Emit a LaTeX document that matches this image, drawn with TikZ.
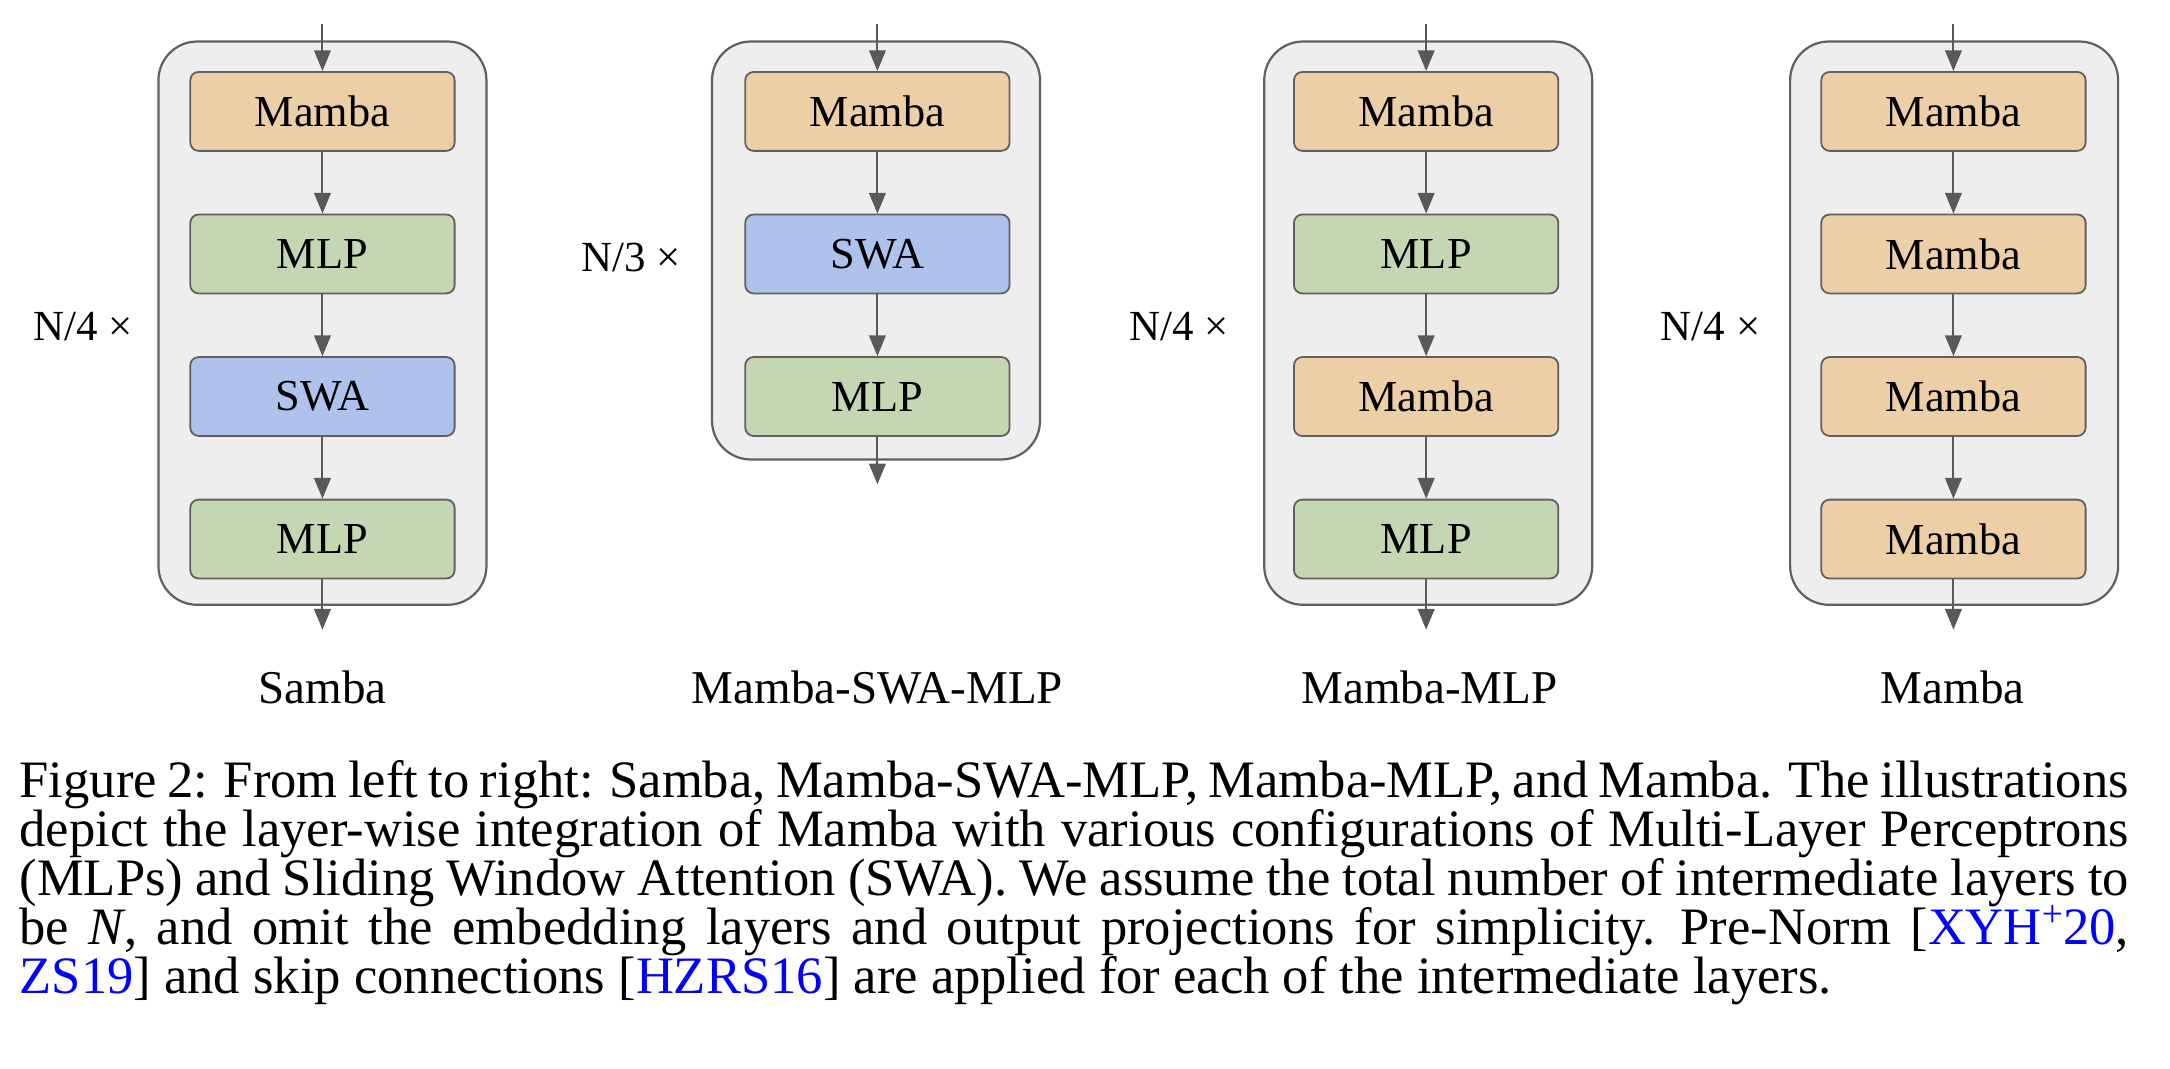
\documentclass[tikz,border=0pt]{standalone}
\usepackage{fontspec}
\setmainfont{Liberation Serif}
\usetikzlibrary{arrows.meta}
\definecolor{mambac}{HTML}{EDCFA7}
\definecolor{mlpc}{HTML}{C4D7B2}
\definecolor{swac}{HTML}{AEC2EB}
\definecolor{contc}{HTML}{EEEEEE}
\definecolor{edgec}{HTML}{606060}
\definecolor{arrc}{HTML}{595959}
\definecolor{linkc}{HTML}{0000FF}
\tikzset{
  container/.style={draw=edgec, line width=1.6pt, fill=contc, rounded corners=28pt, minimum width=237pt, inner sep=0pt},
  layer/.style={draw=edgec, line width=1.3pt, rounded corners=6pt, minimum width=191pt, minimum height=57pt, inner sep=0pt, font=\fontsize{32}{38}\selectfont},
  mambabox/.style={layer, fill=mambac},
  mlpbox/.style={layer, fill=mlpc},
  swabox/.style={layer, fill=swac},
  flow/.style={draw=arrc, line width=1.5pt, -{Triangle[width=12pt,length=15pt]}},
  reptext/.style={font=\fontsize{31}{37}\selectfont, inner sep=0pt, anchor=base},
  namelabel/.style={font=\fontsize{34}{40}\selectfont, inner sep=0pt},
  captext/.style={font=\fontsize{38}{35.5}\selectfont, inner sep=0pt, anchor=base west}
}
\newcommand{\lnk}[1]{\textcolor{linkc}{#1}}
\newcommand{\capline}[1]{\spaceskip=0.2em plus 1em minus 0.05em\xspaceskip=0.3em plus 1em minus 0.05em\makebox[1524pt][s]{#1}}
\begin{document}
\begin{tikzpicture}[x=1pt,y=-1pt]
\path[use as bounding box] (0,0) rectangle (1568,772);

% ---------- Samba ----------
\node[container, minimum height=407pt] (c1) at (233,233.5) {};
\node[mambabox] (a1) at (233,80.5) {Mamba};
\node[mlpbox]   (a2) at (233,183.5) {MLP};
\node[swabox]   (a3) at (233,286.5) {SWA};
\node[mlpbox]   (a4) at (233,389.5) {MLP};
\coordinate (ain) at (233,17);
\coordinate (aout) at (233,455);
\draw[flow] (ain) -- (a1.north);
\draw[flow] (a1.south) -- (a2.north);
\draw[flow] (a2.south) -- (a3.north);
\draw[flow] (a3.south) -- (a4.north);
\draw[flow] (a4.south) -- (aout);
\node[reptext] (ra) at (60,246) {N/4 ×};
\node[namelabel] (la) at (233,497) {Samba};

% ---------- Mamba-SWA-MLP ----------
\node[container, minimum height=302pt] (c2) at (633,181) {};
\node[mambabox] (b1) at (634,80.5) {Mamba};
\node[swabox]   (b2) at (634,183.5) {SWA};
\node[mlpbox]   (b3) at (634,286.5) {MLP};
\coordinate (bin) at (634,17);
\coordinate (bout) at (634,350);
\draw[flow] (bin) -- (b1.north);
\draw[flow] (b1.south) -- (b2.north);
\draw[flow] (b2.south) -- (b3.north);
\draw[flow] (b3.south) -- (bout);
\node[reptext] (rb) at (456,196) {N/3 ×};
\node[namelabel] (lb) at (634,497) {Mamba-SWA-MLP};

% ---------- Mamba-MLP ----------
\node[container, minimum height=407pt] (c3) at (1032,233.5) {};
\node[mambabox] (d1) at (1030.5,80.5) {Mamba};
\node[mlpbox]   (d2) at (1030.5,183.5) {MLP};
\node[mambabox] (d3) at (1030.5,286.5) {Mamba};
\node[mlpbox]   (d4) at (1030.5,389.5) {MLP};
\coordinate (din) at (1030.5,17);
\coordinate (dout) at (1030.5,455);
\draw[flow] (din) -- (d1.north);
\draw[flow] (d1.south) -- (d2.north);
\draw[flow] (d2.south) -- (d3.north);
\draw[flow] (d3.south) -- (d4.north);
\draw[flow] (d4.south) -- (dout);
\node[reptext] (rd) at (852,246) {N/4 ×};
\node[namelabel] (ld) at (1033,497) {Mamba-MLP};

% ---------- Mamba ----------
\node[container, minimum height=407pt] (c4) at (1412,233.5) {};
\node[mambabox] (e1) at (1411.5,80.5) {Mamba};
\node[mambabox] (e2) at (1411.5,183.5) {Mamba};
\node[mambabox] (e3) at (1411.5,286.5) {Mamba};
\node[mambabox] (e4) at (1411.5,389.5) {Mamba};
\coordinate (ein) at (1411.5,17);
\coordinate (eout) at (1411.5,455);
\draw[flow] (ein) -- (e1.north);
\draw[flow] (e1.south) -- (e2.north);
\draw[flow] (e2.south) -- (e3.north);
\draw[flow] (e3.south) -- (e4.north);
\draw[flow] (e4.south) -- (eout);
\node[reptext] (re) at (1236,246) {N/4 ×};
\node[namelabel] (le) at (1411,497) {Mamba};

% ---------- Caption ----------
\node[captext] (cap1) at (14,576)
  {\capline{Figure 2: From left to right: Samba, Mamba-SWA-MLP, Mamba-MLP, and Mamba. The illustrations}};
\node[captext] (cap2) at (14,611.5)
  {\capline{depict the layer-wise integration of Mamba with various configurations of Multi-Layer Perceptrons}};
\node[captext] (cap3) at (14,647)
  {\capline{(MLPs) and Sliding Window Attention (SWA). We assume the total number of intermediate layers to}};
\node[captext] (cap4) at (14,682.5)
  {\capline{be \textit{N}, and omit the embedding layers and output projections for simplicity. Pre-Norm [\lnk{XYH\raisebox{0.35em}{\fontsize{27}{27}\selectfont +}20},}};
\node[captext] (cap5) at (14,718)
  {\lnk{ZS19}] and skip connections [\lnk{HZRS16}] are applied for each of the intermediate layers.};
\end{tikzpicture}
\end{document}
